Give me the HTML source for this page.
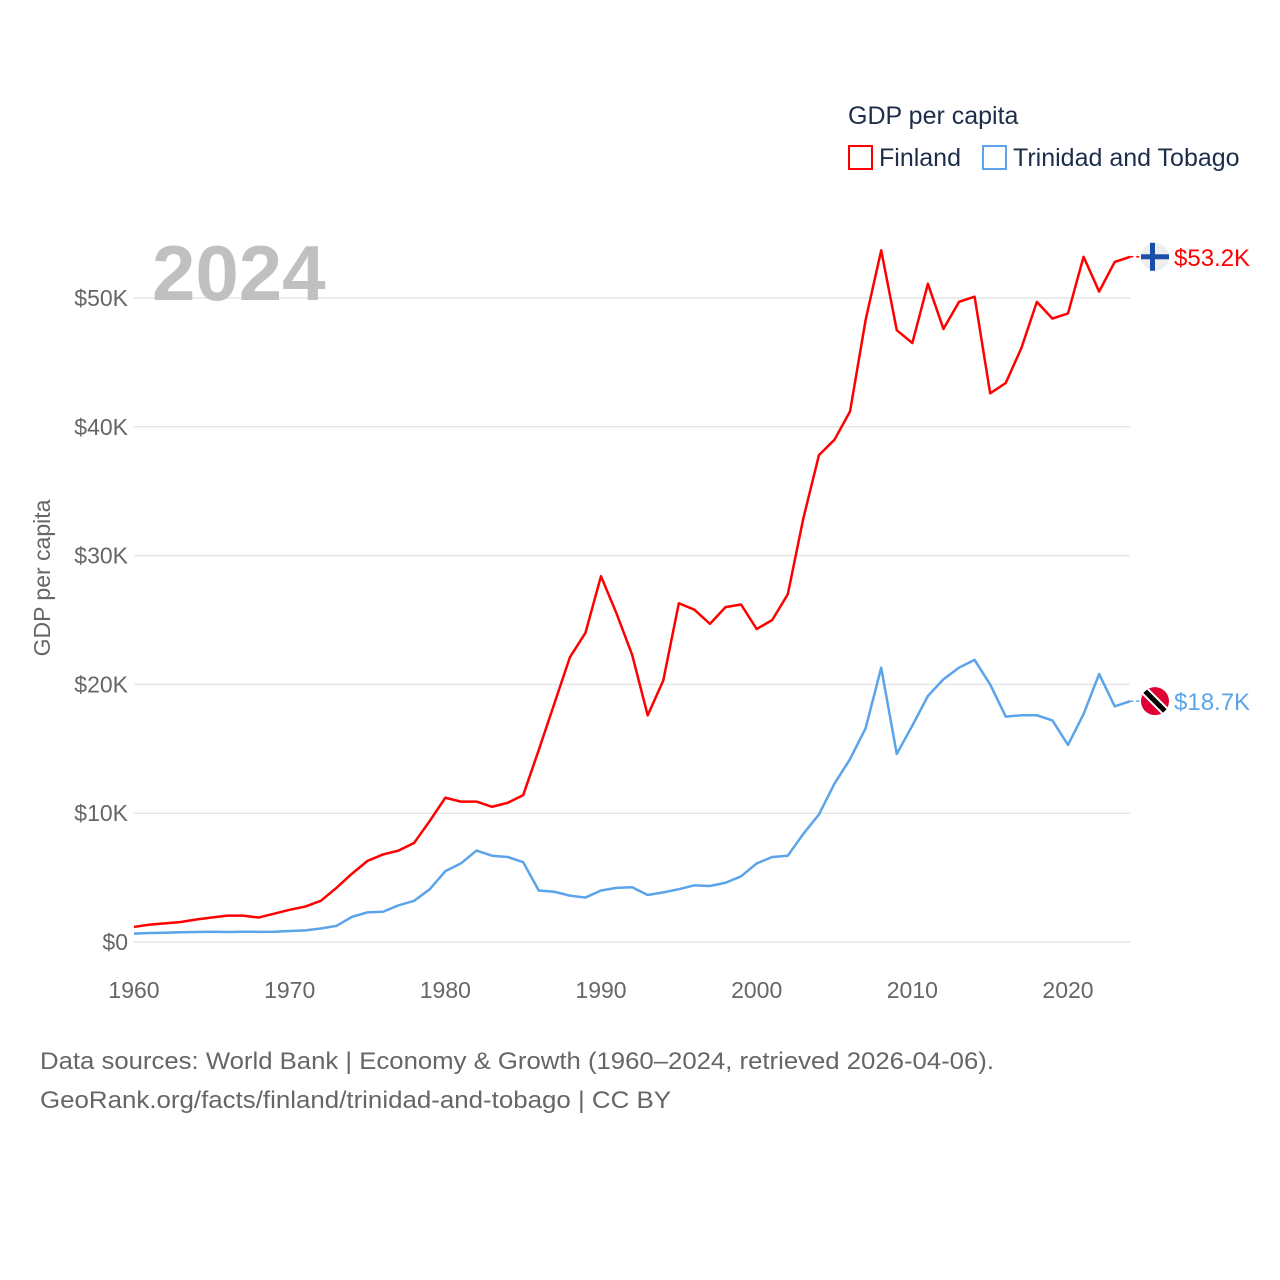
<!DOCTYPE html>
<html><head><meta charset="utf-8"><style>
body{margin:0;background:#fff;font-family:"Liberation Sans",sans-serif;}
#wrap{position:relative;width:1280px;height:1280px;overflow:hidden;}
text{font-family:"Liberation Sans",sans-serif;}
</style></head><body>
<div id="wrap">
<svg id="chart" width="1280" height="1280"></svg>
</div>
<script>
const years = Array.from({length:65},(_,i)=>1960+i);
const finland = [1.17,1.35,1.45,1.55,1.75,1.9,2.05,2.05,1.9,2.2,2.5,2.75,3.2,4.2,5.3,6.3,6.8,7.1,7.7,9.4,11.2,10.9,10.9,10.5,10.8,11.4,14.9,18.5,22.1,24.0,28.4,25.5,22.3,17.6,20.3,26.3,25.8,24.7,26.0,26.2,24.3,25.0,27.0,32.9,37.8,39.0,41.2,48.3,53.7,47.5,46.5,51.1,47.6,49.7,50.1,42.6,43.4,46.1,49.7,48.4,48.8,53.2,50.5,52.8,53.2];
const trinidad = [0.65,0.7,0.72,0.76,0.78,0.8,0.78,0.8,0.79,0.8,0.85,0.9,1.05,1.25,1.95,2.3,2.35,2.85,3.2,4.1,5.5,6.1,7.1,6.7,6.6,6.2,4.0,3.9,3.6,3.45,4.0,4.2,4.25,3.65,3.85,4.1,4.4,4.35,4.6,5.1,6.1,6.6,6.7,8.4,9.9,12.3,14.2,16.6,21.3,14.6,16.8,19.1,20.4,21.3,21.9,20.0,17.5,17.6,17.6,17.2,15.3,17.7,20.8,18.3,18.7];
const yTicks = [0,10,20,30,40,50];
const yTickLabels = ["$0","$10K","$20K","$30K","$40K","$50K"];
const xTicks = [1960,1970,1980,1990,2000,2010,2020];

const NS="http://www.w3.org/2000/svg";
const svg=document.getElementById('chart');
const X=y=>134+(y-1960)*(1068-134)/60;
const Y=v=>942-v*12.88;
function el(tag,attrs,parent){const e=document.createElementNS(NS,tag);for(const k in attrs)e.setAttribute(k,attrs[k]);(parent||svg).appendChild(e);return e;}
function txt(s,attrs){const t=el('text',attrs);t.textContent=s;return t;}

yTicks.forEach((v,i)=>{
  const l=el('line',{x1:134,x2:1130,y1:Y(v),y2:Y(v),stroke:'#e6e6e6','stroke-width':1.5});
  
  
  const t=txt(yTickLabels[i],{x:128,y:Y(v)+8,'text-anchor':'end','font-size':23,fill:'#666'});
  
  
});
xTicks.forEach(yr=>{
  const t=txt(String(yr),{x:X(yr),y:998,'text-anchor':'middle','font-size':23,fill:'#666'});
  
  
});
const yt=txt('GDP per capita',{x:0,y:0,transform:'translate(50,578) rotate(-90)','text-anchor':'middle','font-size':23,fill:'#666'});



const yr=txt('2024',{x:152,y:300,'font-size':78,'font-weight':'bold',fill:'#c0c0c0'});



function series(vals,color,name){
  const p=el('polyline',{points:vals.map((v,i)=>X(years[i])+','+Y(v)).join(' '),fill:'none',stroke:color,'stroke-width':2.5,'stroke-linejoin':'round'});
  
  
  const last=vals[vals.length-1];
  const d=el('line',{x1:X(2024),x2:1145,y1:Y(last),y2:Y(last),stroke:color,'stroke-width':1.5,'stroke-dasharray':'3,3'});
  
  
  const lbl=txt('$'+last.toFixed(1)+'K',{x:1174,y:Y(last)+9,'font-size':24,fill:color});
  
  
  return Y(last);
}
const yf=series(finland,'#ff0000','finland');
const ytt=series(trinidad,'#5ba4ea','trinidad');

const gf=el('g',{});


el('circle',{cx:1155,cy:yf,r:14,fill:'#eeeeee'},gf);
el('rect',{x:1141,y:yf-2.5,width:28,height:5,fill:'#1a4ea8'},gf);
el('rect',{x:1150,y:yf-14,width:5,height:28,fill:'#1a4ea8'},gf);
const gt=el('g',{});


const cp=el('clipPath',{id:'ttc'},gt);el('circle',{cx:1155,cy:ytt,r:14},cp);
el('circle',{cx:1155,cy:ytt,r:14,fill:'#e00034'},gt);
el('line',{x1:1143,y1:ytt-12,x2:1167,y2:ytt+12,stroke:'#fff','stroke-width':9,'clip-path':'url(#ttc)'},gt);
el('line',{x1:1143,y1:ytt-12,x2:1167,y2:ytt+12,stroke:'#000','stroke-width':5,'clip-path':'url(#ttc)'},gt);

const lt=txt('GDP per capita',{x:848,y:124,'font-size':25,fill:'#1d2d4a'});


[[848,'#ff0000','Finland'],[982,'#5ba4ea','Trinidad and Tobago']].forEach(([x,c,n])=>{
  const r=el('rect',{x:x+1,y:146,width:23,height:23,fill:'none',stroke:c,'stroke-width':2});
  
  
  const t=txt(n,{x:x+31,y:166,'font-size':25,fill:'#1d2d4a'});
  
  
});

const s1=txt('Data sources: World Bank | Economy & Growth (1960–2024, retrieved 2026-04-06).',{x:40,y:1069,'font-size':24,fill:'#666',textLength:954,lengthAdjust:'spacingAndGlyphs'});


const s2=txt('GeoRank.org/facts/finland/trinidad-and-tobago | CC BY',{x:40,y:1108,'font-size':24,fill:'#666',textLength:631,lengthAdjust:'spacingAndGlyphs'});


</script>
</body></html>
